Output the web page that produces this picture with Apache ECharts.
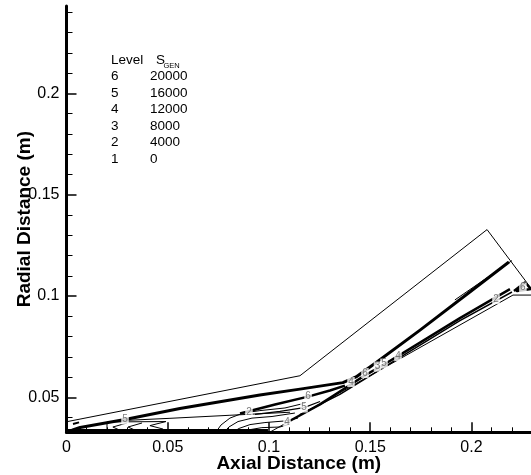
<!DOCTYPE html>
<html>
<head>
<meta charset="utf-8">
<script src="https://cdn.jsdelivr.net/npm/echarts@6/dist/echarts.min.js"></script>
<style>
  html, body { margin: 0; padding: 0; background: #fff; }
  #chart { width: 531px; height: 475px; }
</style>
</head>
<body>
<div id="chart"></div>
<script>
// Axis extents and ticks (metres)
const xRange = [0, 0.2294];
const yRange = [0.0328, 0.2431];
const xMajorTicks = [0, 0.05, 0.1, 0.15, 0.2];
const xMajorLabels = ['0', '0.05', '0.1', '0.15', '0.2'];
const xMinorTicks = [0.01, 0.02, 0.03, 0.04, 0.06, 0.07, 0.08, 0.09, 0.11, 0.12, 0.13, 0.14, 0.16, 0.17, 0.18, 0.19, 0.21, 0.22];
const yMajorTicks = [0.05, 0.1, 0.15, 0.2];
const yMajorLabels = ['0.05', '0.1', '0.15', '0.2'];
const yMinorTicks = [0.04, 0.06, 0.07, 0.08, 0.09, 0.11, 0.12, 0.13, 0.14, 0.16, 0.17, 0.18, 0.19, 0.21, 0.22, 0.23, 0.24];

// Contour level table
const levelIds = ['6', '5', '4', '3', '2', '1'];
const levelValues = ['20000', '16000', '12000', '8000', '4000', '0'];

// Domain outline
const upperWall = [[0, 0.0380], [0.1153, 0.0607], [0.2077, 0.1328], [0.2294, 0.1039]];
const lowerWall = [[0, 0.0329], [0.1005, 0.0329], [0.2205, 0.1005], [0.2294, 0.1005]];

// Entropy-generation contour lines: [points, line width]
const shearLayer = [[0.0027, 0.0339], [0.0067, 0.0352], [0.0289, 0.0391], [0.0560, 0.0445], [0.0955, 0.0512], [0.1153, 0.0541], [0.1365, 0.0573], [0.1430, 0.0601], [0.1533, 0.0675], [0.1746, 0.0832], [0.1992, 0.1020], [0.2185, 0.1168]];
const shearLayerEdge = [[0.1918, 0.0981], [0.2200, 0.1175]];
const wallBand1 = [[0.1104, 0.0385], [0.1252, 0.0466], [0.1375, 0.0545], [0.1474, 0.0609], [0.1553, 0.0654], [0.1637, 0.0704], [0.1943, 0.0891], [0.2190, 0.1034]];
const wallBand2 = [[0.1153, 0.0415], [0.1350, 0.0515], [0.1553, 0.0640], [0.1943, 0.0879], [0.2200, 0.1020]];
const ridge6 = [[0.0857, 0.0421], [0.1030, 0.0465], [0.1193, 0.0504], [0.1301, 0.0534], [0.1375, 0.0558]];
const ridge5 = [[0.0931, 0.0416], [0.1054, 0.0431], [0.1173, 0.0450], [0.1252, 0.0480]];
const plateau = [[0.0299, 0.0387], [0.0511, 0.0397], [0.0807, 0.0412], [0.1104, 0.0427]];
const hump1 = [[0.0738, 0.0329], [0.0763, 0.0364], [0.0807, 0.0398], [0.0872, 0.0423], [0.0955, 0.0435], [0.1079, 0.0448], [0.1178, 0.0472]];
const hump2 = [[0.0778, 0.0329], [0.0802, 0.0354], [0.0847, 0.0381], [0.0916, 0.0398], [0.1015, 0.0406], [0.1128, 0.0423]];
const hump3 = [[0.0822, 0.0329], [0.0852, 0.0347], [0.0906, 0.0366], [0.0980, 0.0376], [0.1079, 0.0384], [0.1143, 0.0398]];
const hump4 = [[0.0877, 0.0329], [0.0906, 0.0341], [0.0965, 0.0351], [0.1054, 0.0354], [0.1104, 0.0369]];
const floorLine = [[0, 0.0339], [0.0995, 0.0339]];
const island = [[0.0200, 0.0334], [0.0200, 0.0379], [0.0491, 0.0381], [0.0412, 0.0361], [0.0477, 0.0344]];
const notchA = [[0.0299, 0.0374], [0.0229, 0.0354], [0.0262, 0.0339]];
const notchB = [[0.0373, 0.0374], [0.0304, 0.0354], [0.0338, 0.0339]];
const inletSpot = [[0.0032, 0.0369], [0.0062, 0.0377]];
const outletSpot = [[0.2210, 0.1025], [0.2264, 0.1067], [0.2294, 0.1035], [0.2225, 0.1025], [0.2259, 0.1052]];

const contourLines = [
  [shearLayer, 3], [shearLayerEdge, 1], [wallBand1, 2.5], [wallBand2, 1.5],
  [ridge6, 2.5], [ridge5, 1.2], [plateau, 1], [hump1, 1], [hump2, 1], [hump3, 1], [hump4, 1],
  [floorLine, 2], [island, 1], [notchA, 1], [notchB, 1], [inletSpot, 2], [outletSpot, 2.5]
];

// In-line level labels: [x, y, level]
const contourLabels = [
  [0.0289, 0.0391, '5'], [0.0901, 0.0428, '2'], [0.1089, 0.0379, '4'], [0.1193, 0.0504, '6'],
  [0.1173, 0.0450, '5'], [0.1405, 0.0576, '4'], [0.1474, 0.0620, '6'], [0.1536, 0.0652, '3'],
  [0.1568, 0.0667, '5'], [0.1637, 0.0704, '4'], [0.2121, 0.0985, '2'], [0.2254, 0.1042, '6']
];

const FONT = 'Liberation Sans, Arial, sans-serif';
const chart = echarts.init(document.getElementById('chart'), null, { renderer: 'canvas' });

function lineSeries(points, width) {
  return {
    type: 'line', data: points, symbol: 'none', silent: true, animation: false,
    lineStyle: { color: '#000', width: width, join: 'round' }, z: 3
  };
}

const series = [lineSeries(upperWall, 1), lineSeries(lowerWall, 1)];
contourLines.forEach(function (c) { series.push(lineSeries(c[0], c[1])); });
series.push({
  type: 'scatter', data: contourLabels, symbolSize: 0, silent: true, animation: false, z: 5,
  label: {
    show: true, position: 'inside', formatter: function (p) { return p.data[2]; },
    color: '#5a5a5a', fontSize: 10, fontFamily: FONT, backgroundColor: '#fff', padding: [0, 1]
  }
});

// Level / value table
const graphic = [];
const tableLeft = 111, valueLeft = 150, headY = 61, rowStep = 16.5;
graphic.push({ type: 'text', left: tableLeft, top: headY - 8, style: { text: 'Level', fontSize: 13.5, fontFamily: FONT, fill: '#000' } });
graphic.push({ type: 'text', left: 156, top: headY - 8, style: { text: 'S', fontSize: 13.5, fontFamily: FONT, fill: '#000' } });
graphic.push({ type: 'text', left: 163.5, top: headY + 1, style: { text: 'GEN', fontSize: 7.5, fontFamily: FONT, fill: '#000' } });
levelIds.forEach(function (id, i) {
  const y = headY + rowStep * (i + 1) - 8;
  graphic.push({ type: 'text', left: tableLeft, top: y, style: { text: id, fontSize: 13.5, fontFamily: FONT, fill: '#000' } });
  graphic.push({ type: 'text', left: valueLeft, top: y, style: { text: levelValues[i], fontSize: 13.5, fontFamily: FONT, fill: '#000' } });
});

function tickFormatter(values, labels) {
  return function (v) {
    for (let i = 0; i < values.length; i++) if (Math.abs(values[i] - v) < 1e-9) return labels[i];
    return '';
  };
}

chart.setOption({
  backgroundColor: '#fff',
  animation: false,
  grid: { left: 66.5, right: 0, top: 6, bottom: 42.7, containLabel: false, outerBoundsMode: 'none' },
  xAxis: [{
    type: 'value', min: xRange[0], max: xRange[1], position: 'bottom',
    name: 'Axial Distance (m)', nameLocation: 'middle', nameGap: 22, nameMoveOverlap: false,
    nameTextStyle: { fontSize: 19, fontWeight: 'bold', fontFamily: FONT, color: '#000' },
    axisLine: { show: true, lineStyle: { color: '#000', width: 3 } },
    axisTick: { show: true, inside: true, length: 10, customValues: xMajorTicks, lineStyle: { color: '#000', width: 1.5 } },
    axisLabel: { show: true, customValues: xMajorTicks, formatter: tickFormatter(xMajorTicks, xMajorLabels), fontSize: 16, fontFamily: FONT, color: '#000', margin: 7 },
    splitLine: { show: false }
  }, {
    type: 'value', min: xRange[0], max: xRange[1], position: 'bottom',
    axisLine: { show: false },
    axisTick: { show: true, inside: true, length: 5, customValues: xMinorTicks, lineStyle: { color: '#000', width: 1 } },
    axisLabel: { show: false }, splitLine: { show: false }
  }],
  yAxis: [{
    type: 'value', min: yRange[0], max: yRange[1], position: 'left',
    name: 'Radial Distance (m)', nameLocation: 'middle', nameGap: 32, nameMoveOverlap: false,
    nameTextStyle: { fontSize: 19, fontWeight: 'bold', fontFamily: FONT, color: '#000' },
    axisLine: { show: true, lineStyle: { color: '#000', width: 3 } },
    axisTick: { show: true, inside: true, length: 10, customValues: yMajorTicks, lineStyle: { color: '#000', width: 1.5 } },
    axisLabel: { show: true, customValues: yMajorTicks, formatter: tickFormatter(yMajorTicks, yMajorLabels), fontSize: 16, fontFamily: FONT, color: '#000', margin: 7 },
    splitLine: { show: false }
  }, {
    type: 'value', min: yRange[0], max: yRange[1], position: 'left',
    axisLine: { show: false },
    axisTick: { show: true, inside: true, length: 6, customValues: yMinorTicks, lineStyle: { color: '#000', width: 1 } },
    axisLabel: { show: false }, splitLine: { show: false }
  }],
  graphic: graphic,
  series: series
});
</script>
</body>
</html>
